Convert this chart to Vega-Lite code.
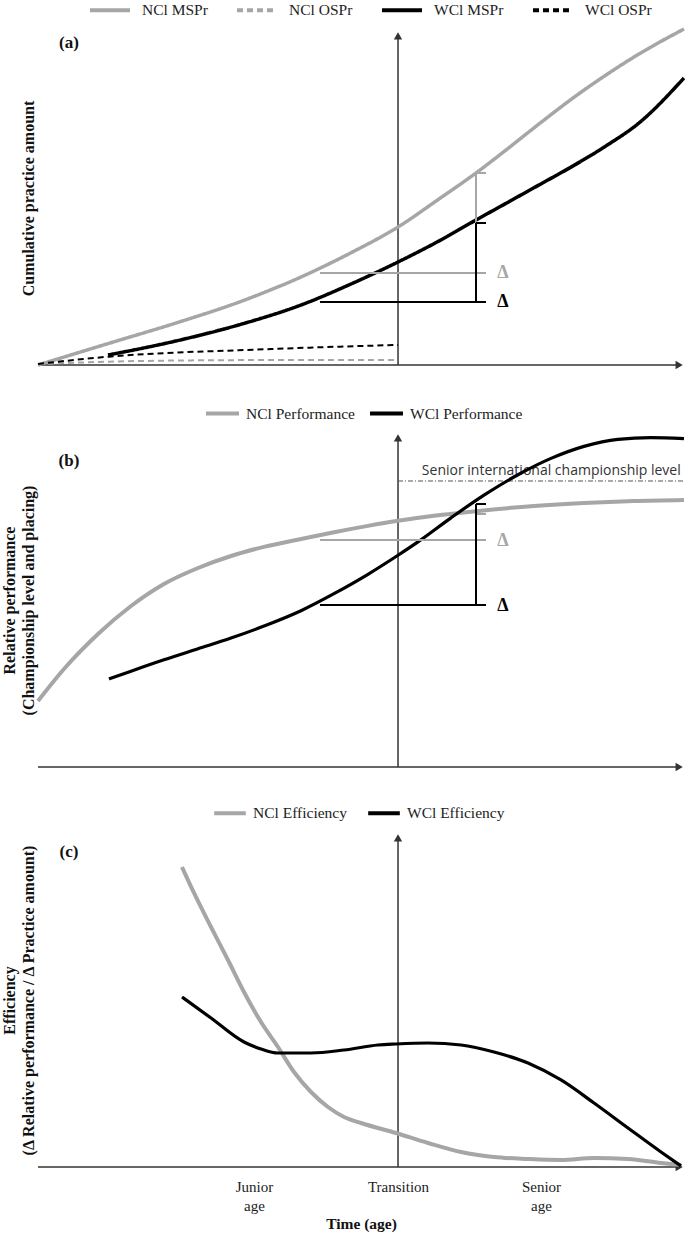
{
  "$schema": "https://vega.github.io/schema/vega-lite/v6.json",
  "background": "white",
  "padding": {"left": 1, "top": -12, "right": 0, "bottom": 0},
  "spacing": 23,
  "config": {
    "view": {"stroke": null},
    "axis": {"grid": false},
    "legend": {"title": null, "padding": 0, "symbolType": "stroke", "labelFont": "Liberation Serif", "labelFontSize": 15.5, "labelColor": "#222"}
  },
  "resolve": {"scale": {"color": "independent", "strokeDash": "independent"}},
  "vconcat": [
    {
      "width": 646,
      "height": 334,
      "encoding": {
        "x": {"field": "x", "type": "quantitative", "scale": {"domain": [0, 100], "nice": false, "zero": false}, "axis": null},
        "y": {"field": "y", "type": "quantitative", "scale": {"domain": [0, 100], "nice": false, "zero": false},
          "axis": {"title": "Cumulative practice amount", "labels": false, "ticks": false, "domain": false, "titlePadding": 2, "titleFont": "Liberation Serif", "titleFontSize": 16, "titleFontWeight": "bold", "titleColor": "#111"}}
      },
      "layer": [
        {
          "data": {"values": [
            {"axis": "time", "x": 0, "y": 0, "x2": 99.25, "y2": 0},
            {"axis": "level", "x": 55.73, "y": 0, "x2": 55.73, "y2": 98.56}
          ]},
          "mark": {"type": "rule", "color": "#333", "strokeWidth": 1.5},
          "encoding": {"x2": {"field": "x2"}, "y2": {"field": "y2"}}
        },
        {
          "data": {"values": [
            {"dir": "right", "x": 99.25, "y": 0},
            {"dir": "up", "x": 55.73, "y": 98.56}
          ]},
          "mark": {"type": "point", "filled": true, "size": 70, "color": "#333", "opacity": 1},
          "encoding": {"shape": {"condition": {"test": "datum.dir === 'right'", "value": "triangle-right"}, "value": "triangle-up"}}
        },
        {
          "data": {"values": [
            {"series": "NCl MSPr", "x": 0, "y": 0},
            {"series": "NCl MSPr", "x": 11.15, "y": 6.59},
            {"series": "NCl MSPr", "x": 21.36, "y": 12.57},
            {"series": "NCl MSPr", "x": 31.58, "y": 19.16},
            {"series": "NCl MSPr", "x": 40.71, "y": 26.35},
            {"series": "NCl MSPr", "x": 48.45, "y": 33.6},
            {"series": "NCl MSPr", "x": 55.73, "y": 41.32},
            {"series": "NCl MSPr", "x": 62.07, "y": 49.7},
            {"series": "NCl MSPr", "x": 67.8, "y": 57.49},
            {"series": "NCl MSPr", "x": 72.45, "y": 64.37},
            {"series": "NCl MSPr", "x": 77.55, "y": 72.16},
            {"series": "NCl MSPr", "x": 82.82, "y": 79.94},
            {"series": "NCl MSPr", "x": 87.93, "y": 86.83},
            {"series": "NCl MSPr", "x": 93.03, "y": 93.11},
            {"series": "NCl MSPr", "x": 100, "y": 100.6},
            {"series": "NCl OSPr", "x": 0, "y": 0.3},
            {"series": "NCl OSPr", "x": 11, "y": 1.0},
            {"series": "NCl OSPr", "x": 25, "y": 1.4},
            {"series": "NCl OSPr", "x": 40, "y": 1.5},
            {"series": "NCl OSPr", "x": 55.73, "y": 1.5},
            {"series": "WCl MSPr", "x": 10.84, "y": 2.99},
            {"series": "WCl MSPr", "x": 21.36, "y": 7.19},
            {"series": "WCl MSPr", "x": 31.58, "y": 12.28},
            {"series": "WCl MSPr", "x": 40.71, "y": 17.96},
            {"series": "WCl MSPr", "x": 48.45, "y": 24.25},
            {"series": "WCl MSPr", "x": 55.73, "y": 30.84},
            {"series": "WCl MSPr", "x": 62.07, "y": 37.13},
            {"series": "WCl MSPr", "x": 67.8, "y": 43.41},
            {"series": "WCl MSPr", "x": 72.45, "y": 48.4},
            {"series": "WCl MSPr", "x": 77.55, "y": 53.9},
            {"series": "WCl MSPr", "x": 82.82, "y": 59.6},
            {"series": "WCl MSPr", "x": 87.93, "y": 65.6},
            {"series": "WCl MSPr", "x": 93.03, "y": 72.46},
            {"series": "WCl MSPr", "x": 100, "y": 85.93},
            {"series": "WCl OSPr", "x": 0, "y": 0.3},
            {"series": "WCl OSPr", "x": 11, "y": 2.5},
            {"series": "WCl OSPr", "x": 21, "y": 3.7},
            {"series": "WCl OSPr", "x": 31, "y": 4.4},
            {"series": "WCl OSPr", "x": 42, "y": 5.2},
            {"series": "WCl OSPr", "x": 55.73, "y": 6.0}
          ]},
          "mark": {"type": "line", "interpolate": "monotone"},
          "encoding": {
            "color": {"field": "series", "type": "nominal",
              "scale": {"domain": ["NCl MSPr", "NCl OSPr", "WCl MSPr", "WCl OSPr"], "range": ["#a6a6a6", "#a6a6a6", "#000000", "#000000"]},
              "legend": {"orient": "none", "legendX": 50, "legendY": -43, "direction": "horizontal", "columns": 4, "symbolSize": 1600, "symbolStrokeWidth": 4, "labelOffset": 10, "columnPadding": 21}},
            "strokeDash": {"field": "series", "type": "nominal",
              "scale": {"domain": ["NCl MSPr", "NCl OSPr", "WCl MSPr", "WCl OSPr"], "range": [[1, 0], [6, 4], [1, 0], [6, 4]]},
              "legend": {"orient": "none", "legendX": 50, "legendY": -43, "direction": "horizontal", "columns": 4, "symbolSize": 1600, "symbolStrokeWidth": 4, "labelOffset": 10, "columnPadding": 21}},
            "strokeWidth": {"condition": {"test": "indexof(datum.series, 'OSPr') >= 0", "value": 2}, "value": 3.5}
          }
        },
        {
          "data": {"values": [
            {"tone": "gray", "x": 43.65, "x2": 69.35, "y": 27.54, "y2": 27.54},
            {"tone": "gray", "x": 67.8, "x2": 67.8, "y": 27.54, "y2": 57.49},
            {"tone": "gray", "x": 67.8, "x2": 69.35, "y": 57.49, "y2": 57.49},
            {"tone": "black", "x": 43.65, "x2": 69.35, "y": 18.86, "y2": 18.86},
            {"tone": "black", "x": 67.8, "x2": 67.8, "y": 18.86, "y2": 42.51},
            {"tone": "black", "x": 67.8, "x2": 69.35, "y": 42.51, "y2": 42.51}
          ]},
          "mark": {"type": "rule", "strokeWidth": 2},
          "encoding": {"x2": {"field": "x2"}, "y2": {"field": "y2"},
            "color": {"condition": {"test": "datum.tone === 'gray'", "value": "#a6a6a6"}, "value": "#000000"}}
        },
        {
          "data": {"values": [
            {"tone": "gray", "label": "Δ", "x": 71.98, "y": 27.54},
            {"tone": "black", "label": "Δ", "x": 71.98, "y": 18.86}
          ]},
          "mark": {"type": "text", "font": "Liberation Serif", "fontSize": 18, "fontWeight": "bold"},
          "encoding": {"text": {"field": "label"},
            "color": {"condition": {"test": "datum.tone === 'gray'", "value": "#a6a6a6"}, "value": "#000000"}}
        },
        {
          "data": {"values": [{"label": "(a)", "x": 4.8, "y": 96.4}]},
          "mark": {"type": "text", "font": "Liberation Serif", "fontSize": 17, "fontWeight": "bold", "color": "#111"},
          "encoding": {"text": {"field": "label"}}
        }
      ]
    },
    {
      "width": 646,
      "height": 334,
      "encoding": {
        "x": {"field": "x", "type": "quantitative", "scale": {"domain": [0, 100], "nice": false, "zero": false}, "axis": null},
        "y": {"field": "y", "type": "quantitative", "scale": {"domain": [0, 100], "nice": false, "zero": false},
          "axis": {"title": ["Relative performance", "(Championship level and placing)"], "labels": false, "ticks": false, "domain": false, "titlePadding": 2, "titleLineHeight": 19, "titleFont": "Liberation Serif", "titleFontSize": 16, "titleFontWeight": "bold", "titleColor": "#111"}}
      },
      "layer": [
        {
          "data": {"values": [
            {"axis": "time", "x": 0, "y": 0, "x2": 99.25, "y2": 0},
            {"axis": "level", "x": 55.73, "y": 0, "x2": 55.73, "y2": 98.56}
          ]},
          "mark": {"type": "rule", "color": "#333", "strokeWidth": 1.5},
          "encoding": {"x2": {"field": "x2"}, "y2": {"field": "y2"}}
        },
        {
          "data": {"values": [
            {"dir": "right", "x": 99.25, "y": 0},
            {"dir": "up", "x": 55.73, "y": 98.56}
          ]},
          "mark": {"type": "point", "filled": true, "size": 70, "color": "#333", "opacity": 1},
          "encoding": {"shape": {"condition": {"test": "datum.dir === 'right'", "value": "triangle-right"}, "value": "triangle-up"}}
        },
        {
          "data": {"values": [{"x": 55.73, "x2": 100, "y": 85.63, "y2": 85.63}]},
          "mark": {"type": "rule", "color": "#555", "strokeWidth": 1, "strokeDash": [5, 2, 1, 2]},
          "encoding": {"x2": {"field": "x2"}, "y2": {"field": "y2"}}
        },
        {
          "data": {"values": [{"label": "Senior international championship level", "x": 99.5, "y": 88.6}]},
          "mark": {"type": "text", "align": "right", "font": "Open Sans", "fontSize": 14, "color": "#333"},
          "encoding": {"text": {"field": "label"}}
        },
        {
          "data": {"values": [
            {"series": "NCl Performance", "x": 0, "y": 19.76},
            {"series": "NCl Performance", "x": 4.02, "y": 29.34},
            {"series": "NCl Performance", "x": 9.29, "y": 39.82},
            {"series": "NCl Performance", "x": 14.4, "y": 48.2},
            {"series": "NCl Performance", "x": 19.5, "y": 54.79},
            {"series": "NCl Performance", "x": 24.77, "y": 59.58},
            {"series": "NCl Performance", "x": 29.88, "y": 63.17},
            {"series": "NCl Performance", "x": 34.98, "y": 65.9},
            {"series": "NCl Performance", "x": 40.71, "y": 68.26},
            {"series": "NCl Performance", "x": 45.82, "y": 70.3},
            {"series": "NCl Performance", "x": 51.08, "y": 72.2},
            {"series": "NCl Performance", "x": 55.73, "y": 73.7},
            {"series": "NCl Performance", "x": 61.3, "y": 75.2},
            {"series": "NCl Performance", "x": 67.8, "y": 76.6},
            {"series": "NCl Performance", "x": 76.78, "y": 78.14},
            {"series": "NCl Performance", "x": 84.52, "y": 79.04},
            {"series": "NCl Performance", "x": 92.26, "y": 79.64},
            {"series": "NCl Performance", "x": 100, "y": 79.94},
            {"series": "WCl Performance", "x": 10.99, "y": 26.35},
            {"series": "WCl Performance", "x": 14.4, "y": 28.7},
            {"series": "WCl Performance", "x": 19.5, "y": 32.1},
            {"series": "WCl Performance", "x": 24.77, "y": 35.4},
            {"series": "WCl Performance", "x": 29.88, "y": 38.6},
            {"series": "WCl Performance", "x": 34.98, "y": 42.2},
            {"series": "WCl Performance", "x": 40.71, "y": 46.8},
            {"series": "WCl Performance", "x": 45.82, "y": 51.9},
            {"series": "WCl Performance", "x": 51.08, "y": 57.7},
            {"series": "WCl Performance", "x": 55.73, "y": 63.4},
            {"series": "WCl Performance", "x": 58.82, "y": 67.4},
            {"series": "WCl Performance", "x": 63.93, "y": 74.6},
            {"series": "WCl Performance", "x": 69.04, "y": 81.4},
            {"series": "WCl Performance", "x": 74.3, "y": 87.5},
            {"series": "WCl Performance", "x": 79.41, "y": 92.4},
            {"series": "WCl Performance", "x": 84.52, "y": 96.0},
            {"series": "WCl Performance", "x": 89.78, "y": 98.1},
            {"series": "WCl Performance", "x": 94.89, "y": 98.6},
            {"series": "WCl Performance", "x": 100, "y": 98.3}
          ]},
          "mark": {"type": "line", "interpolate": "monotone"},
          "encoding": {
            "color": {"field": "series", "type": "nominal",
              "scale": {"domain": ["NCl Performance", "WCl Performance"], "range": ["#a6a6a6", "#000000"]},
              "legend": {"orient": "none", "legendX": 166, "legendY": -38, "direction": "horizontal", "columns": 2, "symbolSize": 1089, "symbolStrokeWidth": 4, "labelOffset": 5, "columnPadding": 7}},
            "strokeWidth": {"condition": {"test": "indexof(datum.series, 'NCl') === 0", "value": 4}, "value": 3.2}
          }
        },
        {
          "data": {"values": [
            {"tone": "gray", "x": 43.65, "x2": 69.35, "y": 67.96, "y2": 67.96},
            {"tone": "gray", "x": 67.8, "x2": 67.8, "y": 67.96, "y2": 75.75},
            {"tone": "gray", "x": 67.8, "x2": 69.35, "y": 75.75, "y2": 75.75},
            {"tone": "black", "x": 43.65, "x2": 69.35, "y": 48.5, "y2": 48.5},
            {"tone": "black", "x": 67.8, "x2": 67.8, "y": 48.5, "y2": 78.74},
            {"tone": "black", "x": 67.8, "x2": 69.35, "y": 78.74, "y2": 78.74}
          ]},
          "mark": {"type": "rule", "strokeWidth": 2},
          "encoding": {"x2": {"field": "x2"}, "y2": {"field": "y2"},
            "color": {"condition": {"test": "datum.tone === 'gray'", "value": "#a6a6a6"}, "value": "#000000"}}
        },
        {
          "data": {"values": [
            {"tone": "gray", "label": "Δ", "x": 71.98, "y": 67.66},
            {"tone": "black", "label": "Δ", "x": 71.98, "y": 48.2}
          ]},
          "mark": {"type": "text", "font": "Liberation Serif", "fontSize": 18, "fontWeight": "bold"},
          "encoding": {"text": {"field": "label"},
            "color": {"condition": {"test": "datum.tone === 'gray'", "value": "#a6a6a6"}, "value": "#000000"}}
        },
        {
          "data": {"values": [{"label": "(b)", "x": 4.8, "y": 91.6}]},
          "mark": {"type": "text", "font": "Liberation Serif", "fontSize": 17, "fontWeight": "bold", "color": "#111"},
          "encoding": {"text": {"field": "label"}}
        }
      ]
    },
    {
      "width": 646,
      "height": 334,
      "encoding": {
        "x": {"field": "x", "type": "quantitative", "scale": {"domain": [0, 100], "nice": false, "zero": false},
          "axis": {"values": [33.44, 55.73, 77.86],
            "labelExpr": "datum.value < 40 ? ['Junior', 'age'] : (datum.value < 60 ? 'Transition' : ['Senior', 'age'])",
            "domain": false, "ticks": false, "labelPadding": 12, "labelFont": "Liberation Serif", "labelFontSize": 15, "labelColor": "#222", "labelLineHeight": 19,
            "labelOverlap": false, "labelFlush": false,
            "title": "Time (age)", "titleFont": "Liberation Serif", "titleFontSize": 15.5, "titleFontWeight": "bold", "titleColor": "#111", "titlePadding": 3}},
        "y": {"field": "y", "type": "quantitative", "scale": {"domain": [0, 100], "nice": false, "zero": false},
          "axis": {"title": ["Efficiency", "(Δ Relative performance / Δ Practice amount)"], "labels": false, "ticks": false, "domain": false, "titlePadding": 2, "titleLineHeight": 19, "titleFont": "Liberation Serif", "titleFontSize": 16, "titleFontWeight": "bold", "titleColor": "#111"}}
      },
      "layer": [
        {
          "data": {"values": [
            {"axis": "time", "x": 0, "y": 0, "x2": 99.25, "y2": 0},
            {"axis": "level", "x": 55.73, "y": 0, "x2": 55.73, "y2": 98.56}
          ]},
          "mark": {"type": "rule", "color": "#333", "strokeWidth": 1.5},
          "encoding": {"x2": {"field": "x2"}, "y2": {"field": "y2"}}
        },
        {
          "data": {"values": [
            {"dir": "right", "x": 99.25, "y": 0},
            {"dir": "up", "x": 55.73, "y": 98.56}
          ]},
          "mark": {"type": "point", "filled": true, "size": 70, "color": "#333", "opacity": 1},
          "encoding": {"shape": {"condition": {"test": "datum.dir === 'right'", "value": "triangle-right"}, "value": "triangle-up"}}
        },
        {
          "data": {"values": [
            {"series": "NCl Efficiency", "x": 22.29, "y": 89.82},
            {"series": "NCl Efficiency", "x": 24.15, "y": 82.04},
            {"series": "NCl Efficiency", "x": 26.78, "y": 71.86},
            {"series": "NCl Efficiency", "x": 29.41, "y": 61.98},
            {"series": "NCl Efficiency", "x": 31.89, "y": 52.4},
            {"series": "NCl Efficiency", "x": 34.52, "y": 43.41},
            {"series": "NCl Efficiency", "x": 37.15, "y": 35.93},
            {"series": "NCl Efficiency", "x": 39.63, "y": 28.44},
            {"series": "NCl Efficiency", "x": 42.26, "y": 22.46},
            {"series": "NCl Efficiency", "x": 44.89, "y": 17.96},
            {"series": "NCl Efficiency", "x": 47.37, "y": 14.97},
            {"series": "NCl Efficiency", "x": 50.0, "y": 13.17},
            {"series": "NCl Efficiency", "x": 55.42, "y": 10.18},
            {"series": "NCl Efficiency", "x": 60.37, "y": 7.19},
            {"series": "NCl Efficiency", "x": 65.48, "y": 4.49},
            {"series": "NCl Efficiency", "x": 70.59, "y": 2.99},
            {"series": "NCl Efficiency", "x": 75.85, "y": 2.4},
            {"series": "NCl Efficiency", "x": 80.96, "y": 2.1},
            {"series": "NCl Efficiency", "x": 86.07, "y": 2.69},
            {"series": "NCl Efficiency", "x": 91.33, "y": 2.4},
            {"series": "NCl Efficiency", "x": 96.44, "y": 1.2},
            {"series": "NCl Efficiency", "x": 99.54, "y": 0.6},
            {"series": "WCl Efficiency", "x": 22.29, "y": 50.9},
            {"series": "WCl Efficiency", "x": 26.78, "y": 44.61},
            {"series": "WCl Efficiency", "x": 31.89, "y": 37.43},
            {"series": "WCl Efficiency", "x": 34.52, "y": 35.33},
            {"series": "WCl Efficiency", "x": 37.15, "y": 34.13},
            {"series": "WCl Efficiency", "x": 42.26, "y": 34.13},
            {"series": "WCl Efficiency", "x": 47.37, "y": 35.03},
            {"series": "WCl Efficiency", "x": 52.63, "y": 36.53},
            {"series": "WCl Efficiency", "x": 55.42, "y": 36.83},
            {"series": "WCl Efficiency", "x": 60.37, "y": 37.13},
            {"series": "WCl Efficiency", "x": 65.48, "y": 36.53},
            {"series": "WCl Efficiency", "x": 70.59, "y": 34.43},
            {"series": "WCl Efficiency", "x": 75.85, "y": 31.14},
            {"series": "WCl Efficiency", "x": 80.96, "y": 26.05},
            {"series": "WCl Efficiency", "x": 86.07, "y": 19.16},
            {"series": "WCl Efficiency", "x": 91.33, "y": 11.68},
            {"series": "WCl Efficiency", "x": 96.44, "y": 4.49},
            {"series": "WCl Efficiency", "x": 99.54, "y": 0.3}
          ]},
          "mark": {"type": "line", "interpolate": "monotone"},
          "encoding": {
            "color": {"field": "series", "type": "nominal",
              "scale": {"domain": ["NCl Efficiency", "WCl Efficiency"], "range": ["#a6a6a6", "#000000"]},
              "legend": {"orient": "none", "legendX": 174, "legendY": -38, "direction": "horizontal", "columns": 2, "symbolSize": 1000, "symbolStrokeWidth": 4, "labelOffset": 5, "columnPadding": 13}},
            "strokeWidth": {"condition": {"test": "indexof(datum.series, 'NCl') === 0", "value": 4}, "value": 3.2}
          }
        },
        {
          "data": {"values": [{"label": "(c)", "x": 4.8, "y": 94.3}]},
          "mark": {"type": "text", "font": "Liberation Serif", "fontSize": 17, "fontWeight": "bold", "color": "#111"},
          "encoding": {"text": {"field": "label"}}
        }
      ]
    }
  ]
}
